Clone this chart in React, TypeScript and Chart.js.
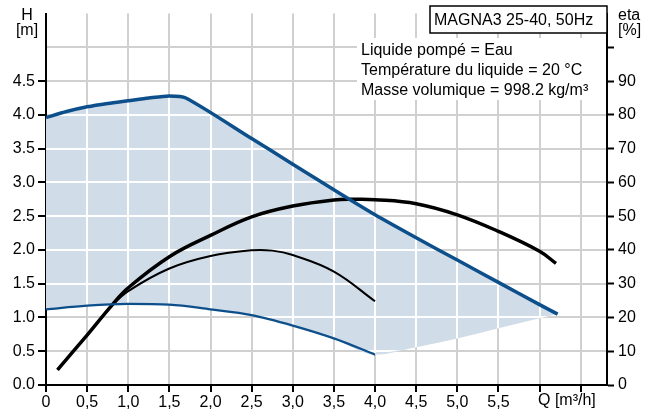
import React, { useEffect, useRef } from "react";
import { Chart, registerables } from "chart.js";
Chart.register(...registerables);

// Max curve (H, m) vs Q (m³/h)
const maxQ = [0, 0.25, 0.5, 0.75, 1.0, 1.25, 1.5, 1.7, 2.5, 3.0, 3.5, 4.0, 4.5, 5.0, 5.5, 6.0, 6.22];
const maxH = [3.96, 4.05, 4.12, 4.17, 4.21, 4.25, 4.28, 4.25, 3.65, 3.27, 2.89, 2.52, 2.18, 1.85, 1.52, 1.19, 1.05];
// Min curve
const minQ = [0, 0.5, 1.0, 1.5, 2.0, 2.5, 3.0, 3.5, 4.0];
const minH = [1.12, 1.175, 1.2, 1.19, 1.12, 1.035, 0.88, 0.69, 0.45];
// System curve closing the operating area
const sysQ = [4.5, 5.0, 5.5, 6.0, 6.22];
const sysH = [0.56, 0.69, 0.84, 0.99, 1.05];
// Efficiency curves (eta, %)
const etaMaxQ = [0.14, 0.5, 0.8, 1.0, 1.5, 2.0, 2.5, 3.0, 3.5, 3.75, 4.0, 4.5, 5.0, 5.5, 6.0, 6.2];
const etaMax = [4.5, 14.8, 23.6, 28.8, 38.0, 44.3, 49.8, 53, 54.8, 55, 54.9, 53.7, 50.4, 45.5, 39.6, 36];
const etaMinQ = [0.14, 0.5, 0.8, 1.0, 1.5, 2.0, 2.5, 2.75, 3.0, 3.5, 4.0];
const etaMin = [4.5, 14.8, 23.4, 27.8, 34.5, 38.2, 39.9, 39.8, 38.5, 33.6, 24.8];

const titleText = "MAGNA3 25-40, 50Hz";
const infoLines = ["Liquide pompé = Eau", "Température du liquide = 20 °C", "Masse volumique = 998.2 kg/m³"];

const BLUE = "#0c4f8b";
const FILL = "#d0dce8";
const GRID = "#d0d0d0";
const FONT = "'Liberation Sans', Arial, sans-serif";

const pts = (xs: number[], ys: number[]) => xs.map((x, i) => ({ x, y: ys[i] }));

export default function App() {
  const ref = useRef<HTMLCanvasElement | null>(null);
  useEffect(() => {
    if (!ref.current) return;
    const whiteGrid = {
      id: "whiteGrid",
      beforeDatasetsDraw(chart: any) {
        const { ctx, chartArea, scales } = chart;
        const top = chart.getDatasetMeta(0).data;
        const bot = chart.getDatasetMeta(1).data;
        ctx.save();
        ctx.beginPath();
        top.forEach((p: any, i: number) => (i ? ctx.lineTo(p.x, p.y) : ctx.moveTo(p.x, p.y)));
        for (let i = bot.length - 1; i >= 0; i--) ctx.lineTo(bot[i].x, bot[i].y);
        ctx.closePath();
        ctx.clip();
        ctx.strokeStyle = "#ffffff";
        ctx.lineWidth = 2;
        scales.x.ticks.forEach((t: any) => {
          if (t.value <= 0) return;
          const px = Math.round(scales.x.getPixelForValue(t.value));
          ctx.beginPath();
          ctx.moveTo(px, chartArea.top);
          ctx.lineTo(px, chartArea.bottom);
          ctx.stroke();
        });
        scales.y.ticks.forEach((t: any) => {
          if (t.value <= 0 || t.value >= 5.5) return;
          const py = Math.round(scales.y.getPixelForValue(t.value));
          ctx.beginPath();
          ctx.moveTo(chartArea.left, py);
          ctx.lineTo(chartArea.right, py);
          ctx.stroke();
        });
        ctx.restore();
      },
      afterDraw(chart: any) {
        const { ctx, chartArea } = chart;
        ctx.save();
        ctx.fillStyle = "#000";
        ctx.font = `16px ${FONT}`;
        ctx.textBaseline = "alphabetic";
        ctx.textAlign = "center";
        ctx.fillText("H", 27, 20);
        ctx.fillText("[m]", 27, 34.5);
        ctx.textAlign = "left";
        ctx.fillText("eta", 618, 20);
        ctx.fillText("[%]", 618, 35);
        ctx.fillText("Q [m³/h]", 538, 404.5);
        // title box
        ctx.fillStyle = "#fff";
        ctx.fillRect(430, 6, chartArea.right - 430, 27);
        ctx.strokeStyle = "#000";
        ctx.lineWidth = 1.5;
        ctx.strokeRect(430, 6, chartArea.right - 430, 27);
        ctx.fillStyle = "#000";
        ctx.fillText(titleText, 434, 25);
        // info block
        ctx.fillStyle = "#fff";
        ctx.fillRect(357, 38, chartArea.right - 358, 62);
        ctx.fillStyle = "#000";
        infoLines.forEach((s, i) => ctx.fillText(s, 361, 55 + i * 20));
        ctx.restore();
      },
    };

    const chart = new Chart(ref.current, {
      type: "line",
      data: {
        datasets: [
          {
            data: pts(maxQ, maxH),
            borderColor: BLUE,
            borderWidth: 3.5,
            pointRadius: 0,
            tension: 0.25,
            fill: "+1",
            backgroundColor: FILL,
            yAxisID: "y",
          },
          {
            data: pts([...minQ, ...sysQ], [...minH, ...sysH]),
            borderColor: "rgba(0,0,0,0)",
            borderWidth: 0,
            pointRadius: 0,
            cubicInterpolationMode: "monotone",
            fill: false,
            yAxisID: "y",
          },
          {
            data: pts(minQ, minH),
            borderColor: BLUE,
            borderWidth: 2.2,
            pointRadius: 0,
            cubicInterpolationMode: "monotone",
            fill: false,
            yAxisID: "y",
          },
          {
            data: pts(etaMaxQ, etaMax),
            borderColor: "#000",
            borderWidth: 3.5,
            pointRadius: 0,
            tension: 0.4,
            fill: false,
            yAxisID: "y2",
          },
          {
            data: pts(etaMinQ, etaMin),
            borderColor: "#000",
            borderWidth: 2,
            pointRadius: 0,
            tension: 0.4,
            fill: false,
            yAxisID: "y2",
          },
        ],
      } as any,
      options: {
        responsive: false,
        animation: false,
        devicePixelRatio: 1,
        layout: { padding: { top: 7, left: 0, right: 0, bottom: 0 } },
        plugins: {
          legend: { display: false },
          tooltip: { enabled: false },
          filler: { drawTime: "beforeDatasetsDraw" } as any,
        },
        scales: {
          x: {
            type: "linear",
            min: 0,
            max: 6.82,
            position: "bottom",
            afterFit: (s: any) => { s.height = 25; },
            ticks: {
              stepSize: 0.5,
              includeBounds: false,
              autoSkip: false,
              maxRotation: 0,
              padding: 1,
              color: "#000",
              font: { family: FONT, size: 16 },
              callback: (v: any) => {
                const n = Number(v);
                if (n === 0) return "0";
                if (n >= 6) return "";
                return n.toFixed(1).replace(".", ",");
              },
            },
            grid: {
              color: (c: any) => (c.tick && c.tick.value === 0 ? "rgba(0,0,0,0)" : GRID),
              lineWidth: 2,
              tickLength: 7,
              tickColor: "#000",
              tickWidth: 2,
            } as any,
            border: { color: "#000", width: 2 },
          },
          y: {
            type: "linear",
            min: 0,
            max: 5.5,
            position: "left",
            afterFit: (s: any) => { s.width = 46; },
            ticks: {
              stepSize: 0.5,
              includeBounds: false,
              autoSkip: false,
              padding: 3,
              color: "#000",
              font: { family: FONT, size: 16 },
              callback: (v: any) => (Number(v) <= 4.5 ? Number(v).toFixed(1) : ""),
            },
            grid: {
              color: (c: any) => (c.tick && (c.tick.value >= 5.5 || c.tick.value === 0) ? "rgba(0,0,0,0)" : GRID),
              lineWidth: 2,
              tickLength: 8,
              tickColor: (c: any) => (c.tick && c.tick.value <= 4.5 ? "#000" : "rgba(0,0,0,0)"),
              tickWidth: 2,
            } as any,
            border: { color: "#000", width: 2 },
          },
          y2: {
            type: "linear",
            min: 0,
            max: 110,
            position: "right",
            afterFit: (s: any) => { s.width = 47; },
            ticks: {
              stepSize: 10,
              includeBounds: false,
              autoSkip: false,
              padding: 4,
              color: "#000",
              font: { family: FONT, size: 16 },
              callback: (v: any) => (Number(v) <= 90 ? String(v) : ""),
            },
            grid: {
              drawOnChartArea: false,
              tickLength: 7,
              tickColor: (c: any) => (c.tick && c.tick.value <= 100 ? "#000" : "rgba(0,0,0,0)"),
              tickWidth: 2,
            } as any,
            border: { color: "#000", width: 2 },
          },
        },
      } as any,
      plugins: [whiteGrid as any],
    });
    return () => chart.destroy();
  }, []);

  return (
    <div style={{ position: "fixed", left: 0, top: 0, width: 654, height: 410, background: "#fff" }}>
      <canvas ref={ref} width={654} height={410} style={{ width: 654, height: 410, display: "block" }} />
    </div>
  );
}
